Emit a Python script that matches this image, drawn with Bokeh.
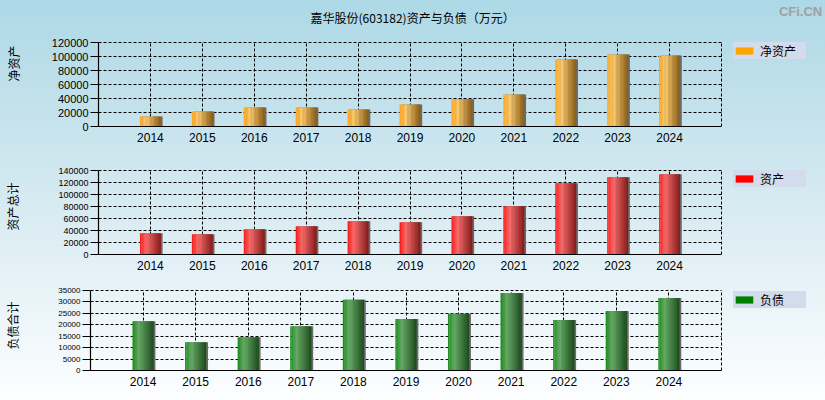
from bokeh.plotting import figure
from bokeh.layouts import column, row
from bokeh.models import (Range1d, FixedTicker, Label, Legend, LegendItem, ColumnDataSource,
                          NumeralTickFormatter)
from bokeh.embed import file_html
from bokeh.resources import INLINE

# ---- data (万元) ----
years = [2014, 2015, 2016, 2017, 2018, 2019, 2020, 2021, 2022, 2023, 2024]
year_labels = ["2014", "2015", "2016", "2017", "2018", "2019", "2020", "2021", "2022", "2023", "2024"]
net_assets = [14300, 21400, 27100, 27000, 24300, 31400, 39000, 45700, 95700, 102800, 101400]
total_assets = [35600, 33900, 42200, 47200, 55600, 53900, 63900, 80600, 118900, 128900, 133900]
total_liab = [21600, 12350, 14550, 19400, 30900, 22500, 24850, 33950, 22050, 26000, 31750]

title_text = "嘉华股份(603182)资产与负债（万元）"
watermark = "CFi.CN"
CJK = "Noto Sans CJK SC"
NUM = "Liberation Sans"
W = 825
X0, X1 = 2013, 2025
GRID_RIGHT = 721  # pixel where the last grid column ends


def hex2rgb(h):
    h = h.lstrip("#")
    return tuple(int(h[i:i + 2], 16) for i in (0, 2, 4))


def grad(stops, t):
    for (p0, c0), (p1, c1) in zip(stops[:-1], stops[1:]):
        if p0 <= t <= p1:
            f = (t - p0) / (p1 - p0) if p1 > p0 else 0
            a, b = hex2rgb(c0), hex2rgb(c1)
            return "#%02x%02x%02x" % tuple(int(round(a[k] + (b[k] - a[k]) * f)) for k in range(3))
    return stops[-1][1]


def make_panel(values, ymax, ystep, ylabel, leg_label, stops, swatch, height,
               b_left, b_bottom, plot_h, tick_fs, label_standoff, leg_loc):
    # frame spans from the top of the figure to the x axis, and to the right edge
    frame_h = height - b_bottom
    frame_w = W - b_left
    ytop = ymax * frame_h / plot_h
    px_per_unit = (GRID_RIGHT - b_left) / (X1 - X0)
    xright = X0 + frame_w / px_per_unit
    p = figure(width=W, height=height, output_backend="svg", toolbar_location=None,
               x_range=Range1d(X0, xright), y_range=Range1d(0, ytop),
               min_border_left=b_left, min_border_right=0,
               min_border_top=0, min_border_bottom=b_bottom)
    p.background_fill_color = None
    p.border_fill_color = None
    p.outline_line_color = None

    bar_w = 0.4
    # shadow
    p.vbar(x=[y + 0.035 for y in years], top=values, bottom=0, width=bar_w,
           fill_color="#6a6a6a", line_color=None)
    n = 16
    for i in range(n):
        t = (i + 0.5) / n
        c = grad(stops, t)
        xs = [y - bar_w / 2 + (i + 0.5) * bar_w / n for y in years]
        p.vbar(x=xs, top=values, bottom=0, width=bar_w / n * 1.15,
               fill_color=c, line_color=None)

    # axes
    p.xaxis.ticker = FixedTicker(ticks=years)
    p.xaxis.bounds = (X0, X1)
    p.xaxis.major_label_overrides = {y: s for y, s in zip(years, year_labels)}
    p.xaxis.major_tick_in = 0
    p.xaxis.major_tick_out = 0
    p.xaxis.minor_tick_line_color = None
    p.xaxis.axis_line_color = "black"
    p.xaxis.axis_line_width = 1.2
    p.xaxis.major_label_text_font = NUM
    p.xaxis.major_label_text_font_size = "12px"
    p.xaxis.major_label_text_color = "black"
    p.xaxis.major_label_standoff = 6

    p.yaxis.ticker = FixedTicker(ticks=list(range(0, ymax + 1, ystep)))
    p.yaxis.bounds = (0, ymax)
    p.yaxis.formatter = NumeralTickFormatter(format="0")
    p.yaxis.major_tick_in = 0
    p.yaxis.major_tick_out = 8
    p.yaxis.minor_tick_line_color = None
    p.yaxis.axis_line_color = "black"
    p.yaxis.axis_line_width = 1.2
    p.yaxis.major_tick_line_color = "black"
    p.yaxis.major_label_text_font = NUM
    p.yaxis.major_label_text_font_size = tick_fs
    p.yaxis.major_label_text_color = "black"
    p.yaxis.major_label_standoff = 2
    p.yaxis.axis_label = ylabel
    p.yaxis.axis_label_text_font = CJK
    p.yaxis.axis_label_text_font_size = "12px"
    p.yaxis.axis_label_text_font_style = "normal"
    p.yaxis.axis_label_text_color = "black"
    p.yaxis.axis_label_standoff = label_standoff

    # grids
    p.xgrid.ticker = FixedTicker(ticks=years + [X1])
    p.xgrid.cross_bounds = (0, ymax)
    p.ygrid.cross_bounds = (X0, X1)
    for g in (p.xgrid, p.ygrid):
        g.grid_line_color = "black"
        g.grid_line_dash = "3 2"
        g.grid_line_width = 1
        g.grid_line_alpha = 1

    # legend (swatch renderer is a zero-height bar, only used for the legend glyph)
    dummy = p.vbar(x="x", top="top", width=0.4,
                   source=ColumnDataSource(data=dict(x=years[:1], top=[0])),
                   fill_color=swatch, line_color=None)
    leg = Legend(items=[LegendItem(label=leg_label, renderers=[dummy])],
                 location=leg_loc,
                 margin=0, padding=7, spacing=0, glyph_width=22, glyph_height=9,
                 label_standoff=5, label_width=46, label_height=9,
                 label_text_font=CJK, label_text_font_size="12px", label_text_color="black",
                 background_fill_color="#d3dcec", background_fill_alpha=1,
                 border_line_color=None)
    p.add_layout(leg)
    return p


orange = [(0.0, "#ffa414"), (0.3, "#ffcc6e"), (1.0, "#8a5c12")]
red = [(0.0, "#ff1414"), (0.3, "#ff6a6a"), (1.0, "#861616")]
green = [(0.0, "#168c16"), (0.3, "#66ad66"), (1.0, "#184a18")]

p1 = make_panel(net_assets, 120000, 20000, "净资产", "净资产", orange, "#ffa500", 158,
                98, 32, 84, "11px", 27, (635, 67))
p2 = make_panel(total_assets, 140000, 20000, "资产总计", "资产", red, "#ff0000", 122,
                98, 26, 84, "9px", 34, (635, 67))
p3 = make_panel(total_liab, 35000, 5000, "负债合计", "负债", green, "#008000", 120,
                90, 30, 80, "8px", 34, (643, 62))

# title and watermark, above the top panel's grid
p1.add_layout(Label(x=2019.05, y=155700, text=title_text, text_align="center",
                    text_baseline="middle", text_font=CJK, text_font_size="12px",
                    text_color="black"))
p1.add_layout(Label(x=2026.94, y=165000, text=watermark, text_align="right",
                    text_baseline="middle", text_font=NUM, text_font_size="13px",
                    text_font_style="bold", text_color="#a0a0a0"))

layout = column(column(p1, p2, spacing=0), row(p3, spacing=0), spacing=0,
                styles={"background": "linear-gradient(to bottom, #add8e6 0%, #d6eaf1 50%, #fdfeff 100%)"})

open("out.html", "w").write(file_html(layout, INLINE))
